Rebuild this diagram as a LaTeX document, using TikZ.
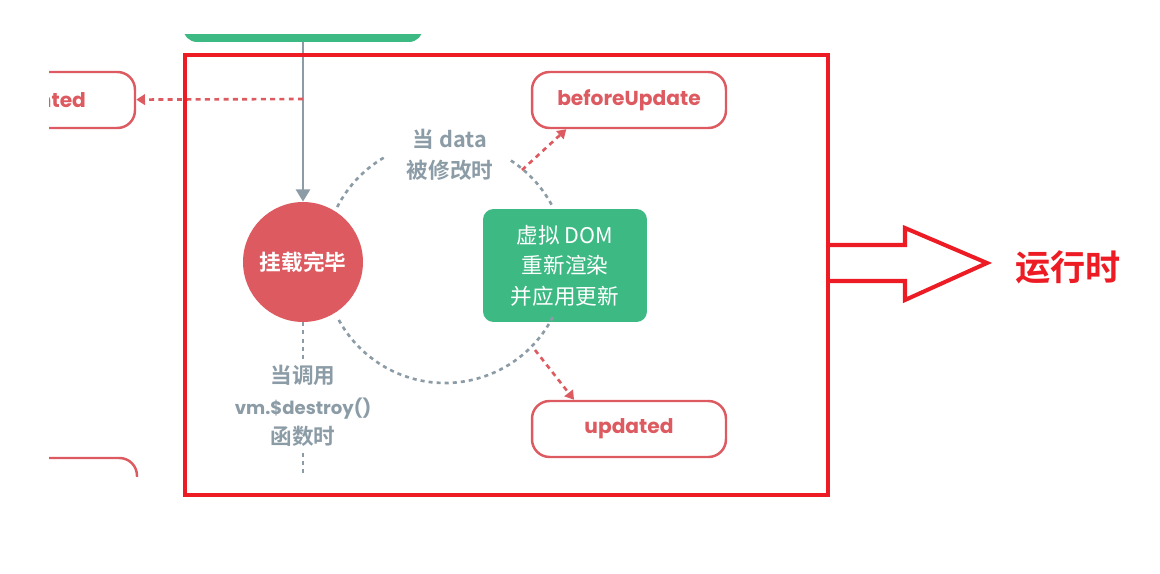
\documentclass[tikz,border=0pt]{standalone}
\usepackage{fontspec}
\setmainfont{Noto Sans CJK SC}[BoldFont={Noto Sans CJK SC Bold}]
\newfontfamily\hookfont{Poppins}
\usetikzlibrary{arrows.meta,calc}

\definecolor{vuegreen}{RGB}{61,185,131}
\definecolor{hookred}{RGB}{221,90,96}
\definecolor{flowgray}{RGB}{140,156,166}
\definecolor{markred}{RGB}{237,28,36}

\begin{document}
\begin{tikzpicture}[
        x=0.02cm, y=-0.02cm,
        font=\fontsize{12.3}{17.3}\selectfont,
        hook/.style={draw=hookred, line width=1.4pt, rounded corners=10pt, fill=white,
            minimum width=3.88cm, minimum height=1.12cm, text=hookred,
            font=\hookfont\bfseries\fontsize{11.5}{13}\selectfont},
        hookarrow/.style={-{Triangle[width=6pt,length=5pt]}, hookred, line width=1.5pt,
            dash pattern=on 2.8pt off 2.5pt},
        flow/.style={flowgray, line width=1.5pt, dash pattern=on 2.3pt off 2.3pt},
        note/.style={text=flowgray, font=\bfseries\fontsize{12.3}{17.3}\selectfont, align=center},
        frameline/.style={markred, line width=2.3pt}
    ]
        \useasboundingbox (0,0) rectangle (1160,574);

        \begin{scope}
        \clip (49,35) rectangle (840,476);

        % Nodos
        \node[fill=vuegreen, rounded corners=8pt, minimum width=4.8cm, minimum height=1.24cm] (created) at (303,11) {};
        \node[hook] (mounted) at (38,100) {mounted};
        \node[hook] (destroyBox) at (40,486) {};
        \node[circle, fill=hookred, minimum size=2.4cm, text=white,
            font=\bfseries\fontsize{12.3}{14}\selectfont] (done) at (303,262) {挂载完毕};
        \node[fill=vuegreen, rounded corners=6pt, minimum width=3.28cm, minimum height=2.26cm,
            text=white, align=center] (vdom) at (565,265.5) {虚拟 DOM\\重新渲染\\并应用更新};
        \node[hook] (beforeUpdate) at (629,100) {beforeUpdate};
        \node[hook] (updated) at (629,429) {updated};

        % Textos
        \node[note] (dataNote) at (450,155) {当 data\\被修改时};
        \node[note] (destroyNote) at (303,406) {当调用\\{\hookfont\fontsize{10.3}{17.3}\selectfont vm.\$destroy()}\\函数时};

        \coordinate (split) at (303,99);
        \coordinate (destroyEnd) at (303,480);
        \coordinate (cycle) at (445,262);
        \coordinate (upStart) at (522,170);
        \coordinate (downStart) at (535,350);

        % Flechas
        \draw[-{Triangle[width=8pt,length=7pt]}, flowgray, line width=1.5pt] (created) -- (done);
        \draw[hookarrow] (split) -- (mounted);
        \draw[flow] (done) -- (destroyNote);
        \draw[flow] (destroyNote) -- (destroyEnd);

        % Ciclo
        \draw[flow] ($(cycle)+(153:2.42cm)$) arc[start angle=153, end angle=120, radius=2.42cm];
        \draw[flow] ($(cycle)+(57:2.42cm)$) arc[start angle=57, end angle=27, radius=2.42cm];
        \draw[flow] ($(cycle)+(-27:2.42cm)$) arc[start angle=-27, end angle=-153, radius=2.42cm];

        \draw[hookarrow] (upStart) -- (beforeUpdate.205);
        \draw[hookarrow] (downStart) -- (updated.152);
        \end{scope}

        % Marco
        \draw[frameline] (185,55) rectangle (828,495);
        \draw[frameline, line join=miter] (828,245) -- (905,245) -- (905,228) -- (987,263)
            -- (905,300) -- (905,281) -- (828,281);
        \node[text=markred, font=\bfseries\fontsize{20}{24}\selectfont] (runtime) at (1068,267) {运行时};

    \end{tikzpicture}
\end{document}
